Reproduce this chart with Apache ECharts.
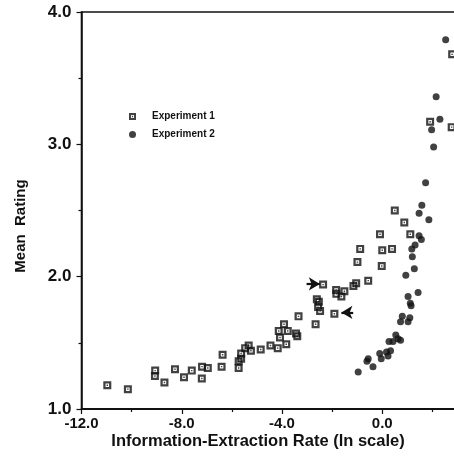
<!DOCTYPE html>
<html>
<head>
<meta charset="utf-8">
<script src="https://cdn.jsdelivr.net/npm/echarts@6/dist/echarts.min.js"></script>
<style>
  html, body { margin: 0; padding: 0; background: #fff; overflow: hidden; }
  #chart { width: 500px; height: 468px; }
</style>
</head>
<body>
<div id="chart"></div>
<script>
// Experiment 1: information-extraction rate (ln) and mean rating
const exp1Rate = [-10.97, -10.15, -9.06, -9.07, -8.69, -8.27, -7.91, -7.60, -7.19, -6.96,
  -7.20, -6.37, -6.41, -5.73, -5.73, -5.63, -5.63, -5.47, -5.33, -5.24,
  -4.85, -4.46, -4.17, -3.83, -4.13, -4.08, -3.92, -3.77, -3.44, -3.39,
  -3.34, -2.66, -2.61, -2.53, -2.56, -2.48, -2.36, -1.91, -1.84, -1.83,
  -1.63, -1.51, -1.15, -1.04, -0.56, -0.99, -0.02, -0.88, 0.00, 0.39,
  -0.09, 1.12, 0.50, 0.88, 1.91, 2.77, 2.79];
const exp1Rating = [1.18, 1.15, 1.29, 1.25, 1.20, 1.30, 1.24, 1.29, 1.32, 1.31,
  1.23, 1.41, 1.32, 1.31, 1.36, 1.38, 1.42, 1.46, 1.48, 1.44,
  1.45, 1.48, 1.46, 1.49, 1.59, 1.54, 1.64, 1.59, 1.57, 1.55,
  1.70, 1.64, 1.83, 1.81, 1.77, 1.74, 1.94, 1.72, 1.90, 1.87,
  1.85, 1.89, 1.93, 1.95, 1.97, 2.11, 2.08, 2.21, 2.20, 2.21,
  2.32, 2.32, 2.50, 2.41, 3.17, 3.13, 3.68];

// Experiment 2
const exp2Rate = [-0.96, -0.56, -0.61, -0.37, -0.10, -0.04, 0.23, 0.33, 0.17, 0.43,
  0.63, 0.73, 0.54, 0.27, 0.80, 0.73, 1.03, 1.10, 1.03, 1.12,
  1.15, 1.43, 0.94, 1.28, 1.20, 1.31, 1.18, 1.47, 1.56, 1.86,
  1.47, 1.58, 1.73, 2.05, 1.97, 2.30, 2.15, 2.53];
const exp2Rating = [1.28, 1.38, 1.36, 1.32, 1.42, 1.38, 1.40, 1.44, 1.43, 1.51,
  1.53, 1.52, 1.56, 1.51, 1.70, 1.66, 1.66, 1.69, 1.85, 1.80,
  1.78, 1.88, 2.01, 2.06, 2.15, 2.24, 2.21, 2.31, 2.28, 2.43,
  2.48, 2.54, 2.71, 2.98, 3.11, 3.19, 3.36, 3.79];

// Arrow annotations: [tailRate, tipRate, rating]
const arrowRight = [-3.02, -2.49, 1.945];
const arrowLeft = [-1.16, -1.63, 1.73];

const xTicks = { min: -12, max: 4, step: 4 };
const yTicks = { min: 1, max: 4, step: 1 };

const seriesNames = ['Experiment 1', 'Experiment 2'];

// open square with a centre dot
const boxSymbol = 'path://M0,0H10V10H0Z M2.8,2.8V7.2H7.2V2.8Z M4.1,4.1H5.9V5.9H4.1Z';
const ink = '#111';
const font = 'Liberation Sans, Arial, Helvetica, sans-serif';

const pairs = (xs, ys) => xs.map((x, i) => [x, ys[i]]);

const chart = echarts.init(document.getElementById('chart'), null, { renderer: 'canvas' });

chart.setOption({
  animation: false,
  backgroundColor: '#fff',
  grid: {
    left: 81.5, top: 12, right: 17.5, bottom: 59,
    show: true, borderColor: ink, borderWidth: 1.6, backgroundColor: 'transparent'
  },
  legend: {
    orient: 'vertical',
    left: 129, top: 110.5,
    padding: 0,
    itemWidth: 7, itemHeight: 7,
    itemGap: 6,
    selectedMode: false,
    textStyle: { fontFamily: font, fontWeight: 'bold', fontSize: 10, color: ink, padding: [0, 0, 0, 11], lineHeight: 12 },
    data: [
      { name: seriesNames[0], icon: boxSymbol },
      { name: seriesNames[1], icon: 'circle' }
    ]
  },
  xAxis: {
    type: 'value',
    min: xTicks.min, max: xTicks.max, interval: xTicks.step,
    axisLine: { show: true, onZero: false, lineStyle: { color: ink, width: 1.8 } },
    axisTick: { show: true, inside: false, length: 5, lineStyle: { color: ink, width: 1.2 } },
    minorTick: { show: true, splitNumber: 2, length: 3, lineStyle: { color: ink, width: 1.2 } },
    splitLine: { show: false },
    axisLabel: {
      showMaxLabel: false,
      margin: 7,
      color: ink, fontFamily: font, fontWeight: 'bold', fontSize: 15,
      formatter: v => v.toFixed(1)
    }
  },
  yAxis: {
    type: 'value',
    min: yTicks.min, max: yTicks.max, interval: yTicks.step,
    axisLine: { show: true, onZero: false, lineStyle: { color: ink, width: 1.5 } },
    axisTick: { show: true, inside: false, length: 5, lineStyle: { color: ink, width: 1.2 } },
    minorTick: { show: true, splitNumber: 2, length: 3, lineStyle: { color: ink, width: 1.2 } },
    splitLine: { show: false },
    axisLabel: {
      margin: 10,
      color: ink, fontFamily: font, fontWeight: 'bold', fontSize: 17,
      formatter: v => v.toFixed(1)
    }
  },
  graphic: [
    {
      type: 'text', x: 258, y: 441,
      style: { text: 'Information-Extraction Rate (ln scale)', fill: ink, font: 'bold 16.5px ' + font, align: 'center', verticalAlign: 'middle' }
    },
    {
      type: 'text', x: 21, y: 226, rotation: Math.PI / 2,
      style: { text: 'Mean  Rating', fill: ink, font: 'bold 15px ' + font, align: 'center', verticalAlign: 'middle' }
    }
  ],
  series: [
    {
      name: seriesNames[0],
      type: 'scatter',
      symbol: boxSymbol,
      symbolSize: 8,
      itemStyle: { color: ink },
      emphasis: { disabled: true },
      data: pairs(exp1Rate, exp1Rating),
      markLine: {
        silent: true,
        animation: false,
        symbol: ['none', 'arrow'],
        symbolSize: [10, 11],
        label: { show: false },
        lineStyle: { color: ink, width: 2.2, type: 'solid' },
        emphasis: { disabled: true },
        data: [
          [{ coord: [arrowRight[0], arrowRight[2]] }, { coord: [arrowRight[1], arrowRight[2]] }],
          [{ coord: [arrowLeft[0], arrowLeft[2]] }, { coord: [arrowLeft[1], arrowLeft[2]] }]
        ]
      }
    },
    {
      name: seriesNames[1],
      type: 'scatter',
      symbol: 'circle',
      symbolSize: 7,
      itemStyle: { color: ink },
      emphasis: { disabled: true },
      data: pairs(exp2Rate, exp2Rating)
    }
  ]
});
</script>
</body>
</html>
